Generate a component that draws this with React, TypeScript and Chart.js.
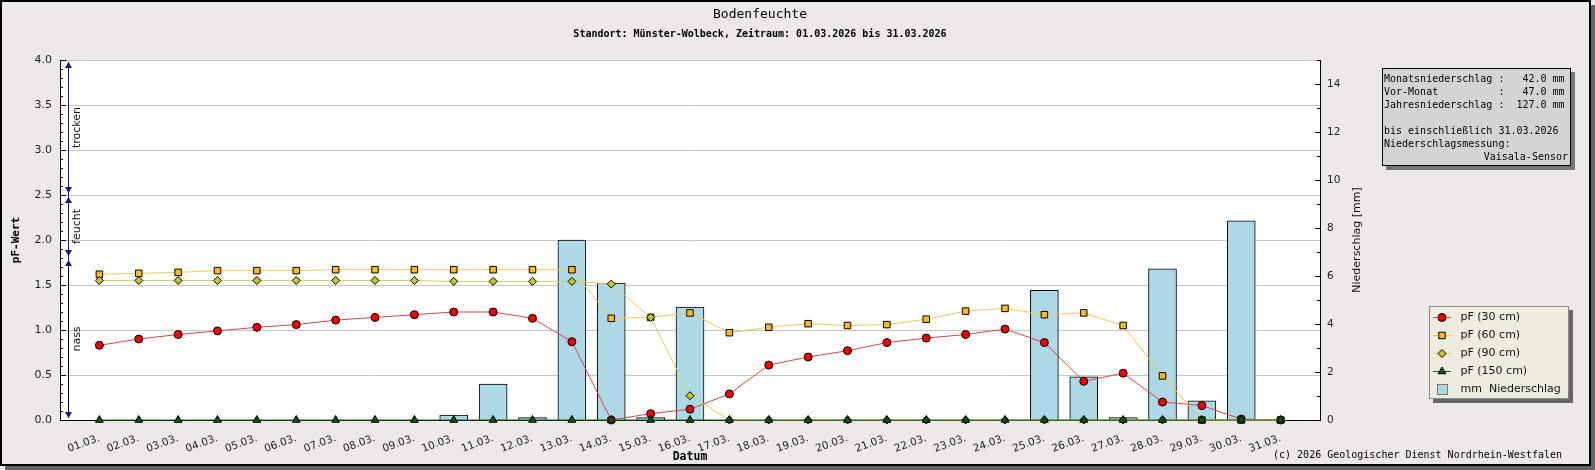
import { useEffect, useRef } from "react"
import { Chart, registerables } from "chart.js"

Chart.register(...registerables)

// days of the month (x axis tick labels)
const DAYS = [
  "01.03.", "02.03.", "03.03.", "04.03.", "05.03.", "06.03.", "07.03.", "08.03.",
  "09.03.", "10.03.", "11.03.", "12.03.", "13.03.", "14.03.", "15.03.", "16.03.",
  "17.03.", "18.03.", "19.03.", "20.03.", "21.03.", "22.03.", "23.03.", "24.03.",
  "25.03.", "26.03.", "27.03.", "28.03.", "29.03.", "30.03.", "31.03.",
]

// pF values per depth
const PF_30 = [
  0.83, 0.9, 0.95, 0.99, 1.03, 1.06, 1.11, 1.14, 1.17, 1.2, 1.2, 1.13, 0.87, 0.0, 0.07, 0.12,
  0.29, 0.61, 0.7, 0.77, 0.86, 0.91, 0.95, 1.01, 0.86, 0.43, 0.52, 0.2, 0.16, 0.01, 0.0,
]
const PF_60 = [
  1.62, 1.63, 1.64, 1.66, 1.66, 1.66, 1.67, 1.67, 1.67, 1.67, 1.67, 1.67, 1.67, 1.13, 1.14, 1.19,
  0.97, 1.03, 1.07, 1.05, 1.06, 1.12, 1.21, 1.24, 1.17, 1.19, 1.05, 0.49, 0.0, 0.0, 0.0,
]
const PF_90 = [
  1.55, 1.55, 1.55, 1.55, 1.55, 1.55, 1.55, 1.55, 1.55, 1.54, 1.54, 1.54, 1.54, 1.51, 1.14, 0.27,
  0.0, 0.0, 0.0, 0.0, 0.0, 0.0, 0.0, 0.0, 0.0, 0.0, 0.0, 0.0, 0.0, 0.0, 0.0,
]
const PF_150 = [
  0, 0, 0, 0, 0, 0, 0, 0, 0, 0, 0, 0, 0, 0, 0, 0,
  0, 0, 0, 0, 0, 0, 0, 0, 0, 0, 0, 0, 0, 0, 0,
]

// daily precipitation in mm
const PRECIP = [
  0, 0, 0, 0, 0, 0, 0, 0, 0, 0.2, 1.5, 0.1, 7.5, 5.7, 0.1, 4.7,
  0, 0, 0, 0, 0, 0, 0, 0, 5.4, 1.8, 0.1, 6.3, 0.8, 8.3, 0,
]

const ZONES = [
  { label: "trocken", from: 2.5, to: 4.0 },
  { label: "feucht", from: 1.8, to: 2.5 },
  { label: "nass", from: 0.0, to: 1.8 },
]

const INFO_LINES = [
  "Monatsniederschlag :   42.0 mm",
  "Vor-Monat          :   47.0 mm",
  "Jahresniederschlag :  127.0 mm",
  "",
  "bis einschließlich 31.03.2026",
  "Niederschlagsmessung:",
]
const INFO_SENSOR = "Vaisala-Sensor"

const TITLE = "Bodenfeuchte"
const SUBTITLE = "Standort: Münster-Wolbeck, Zeitraum: 01.03.2026 bis 31.03.2026"
const COPYRIGHT = "(c) 2026 Geologischer Dienst Nordrhein-Westfalen"
const PRECIP_LABEL = "mm  Niederschlag"

const SERIES = [
  { label: "pF (30 cm)", values: PF_30, line: "#d94848", fill: "#ee0000", style: "circle", radius: 4 },
  { label: "pF (60 cm)", values: PF_60, line: "#f3c65c", fill: "#ffb922", style: "rect", radius: 4.6 },
  { label: "pF (90 cm)", values: PF_90, line: "#d9d45a", fill: "#c8c81e", style: "rectRot", radius: 4 },
  { label: "pF (150 cm)", values: PF_150, line: "#1a6a1a", fill: "#0c5412", style: "triangle", radius: 4.5 },
]

const SANS = "'DejaVu Sans', sans-serif"
const MONO = "'DejaVu Sans Mono', monospace"

// pad with an empty slot on each side of the month
const pad = (a: number[]) => [null, ...a, null]

function drawMarker(ctx: CanvasRenderingContext2D, style: string, x: number, y: number, r: number, fill: string) {
  ctx.beginPath()
  if (style === "circle") {
    ctx.arc(x, y, r, 0, Math.PI * 2)
  } else if (style === "rect") {
    const s = r * Math.SQRT1_2
    ctx.rect(x - s, y - s, 2 * s, 2 * s)
  } else if (style === "rectRot") {
    ctx.moveTo(x - r, y)
    ctx.lineTo(x, y - r)
    ctx.lineTo(x + r, y)
    ctx.lineTo(x, y + r)
    ctx.closePath()
  } else {
    ctx.moveTo(x, y - r)
    ctx.lineTo(x + r * 0.866, y + r * 0.5)
    ctx.lineTo(x - r * 0.866, y + r * 0.5)
    ctx.closePath()
  }
  ctx.fillStyle = fill
  ctx.fill()
  ctx.strokeStyle = "#000"
  ctx.lineWidth = 1
  ctx.stroke()
}

const decor = {
  id: "decor",
  beforeDraw(chart: Chart) {
    const { ctx, width, height, chartArea: a } = chart
    ctx.save()
    ctx.fillStyle = "#ece9e8"
    ctx.fillRect(0, 0, width, height)
    ctx.fillStyle = "#666"
    ctx.fillRect(5, 466, 1590, 4)
    ctx.fillRect(1591, 5, 4, 465)
    ctx.strokeStyle = "#000"
    ctx.lineWidth = 2
    ctx.strokeRect(1, 1, 1589, 464)
    ctx.fillStyle = "#fff"
    ctx.fillRect(a.left, a.top, a.right - a.left, a.bottom - a.top)
    ctx.restore()
  },
  afterDraw(chart: Chart) {
    const { ctx, chartArea: a } = chart
    const y = chart.scales.y
    const y1 = chart.scales.y1
    ctx.save()

    // inner ticks on both value axes
    ctx.strokeStyle = "#000"
    ctx.lineWidth = 1
    ctx.beginPath()
    for (let i = 0; i <= 40; i++) {
      const py = Math.round(y.getPixelForValue(i / 10)) + 0.5
      const len = i % 5 === 0 ? 6 : 3
      ctx.moveTo(a.left, py)
      ctx.lineTo(a.left + len, py)
    }
    y1.ticks.forEach((t, i) => {
      const py = Math.round(y1.getPixelForTick(i)) + 0.5
      const len = t.value % 2 === 0 ? 5 : 3
      ctx.moveTo(a.right - len, py)
      ctx.lineTo(a.right, py)
    })
    ctx.stroke()

    // moisture zones along the left axis
    const zx = a.left + 8.5
    const yTop = y.getPixelForValue(4.0)
    const yWet = y.getPixelForValue(1.8)
    ctx.beginPath()
    ctx.strokeStyle = "#1a1a9a"
    ctx.moveTo(zx, yTop + 2)
    ctx.lineTo(zx, yWet + 4)
    ctx.stroke()
    ctx.beginPath()
    ctx.strokeStyle = "#000"
    ctx.moveTo(zx, yWet + 4)
    ctx.lineTo(zx, y.getPixelForValue(0) - 2)
    ctx.stroke()
    ctx.fillStyle = "#14148c"
    ZONES.forEach((z) => {
      const top = y.getPixelForValue(z.to) + 2
      const bot = y.getPixelForValue(z.from) - 2
      ctx.beginPath()
      ctx.moveTo(zx, top)
      ctx.lineTo(zx + 3.5, top + 6)
      ctx.lineTo(zx - 3.5, top + 6)
      ctx.closePath()
      ctx.fill()
      ctx.beginPath()
      ctx.moveTo(zx, bot)
      ctx.lineTo(zx + 3.5, bot - 6)
      ctx.lineTo(zx - 3.5, bot - 6)
      ctx.closePath()
      ctx.fill()
      ctx.save()
      ctx.translate(zx + 9, (top + bot) / 2)
      ctx.rotate(-Math.PI / 2)
      ctx.fillStyle = "#111"
      ctx.font = `11px ${SANS}`
      ctx.textAlign = "center"
      ctx.textBaseline = "middle"
      ctx.fillText(z.label, 0, 0)
      ctx.restore()
    })

    // titles
    ctx.fillStyle = "#000"
    ctx.textAlign = "center"
    ctx.textBaseline = "middle"
    ctx.font = `13px ${MONO}`
    ctx.fillText(TITLE, 760, 15)
    ctx.font = `bold 10px ${MONO}`
    ctx.fillText(SUBTITLE, 760, 34)
    ctx.font = `bold 11.5px ${MONO}`
    ctx.fillText("Datum", (a.left + a.right) / 2, 457)
    ctx.save()
    ctx.translate(16, (a.top + a.bottom) / 2)
    ctx.rotate(-Math.PI / 2)
    ctx.font = `bold 11px ${MONO}`
    ctx.fillText("pF-Wert", 0, 0)
    ctx.restore()
    ctx.save()
    ctx.translate(1357, (a.top + a.bottom) / 2)
    ctx.rotate(-Math.PI / 2)
    ctx.font = `11px ${SANS}`
    ctx.fillStyle = "#111"
    ctx.fillText("Niederschlag [mm]", 0, 0)
    ctx.restore()
    ctx.textAlign = "right"
    ctx.font = `10px ${MONO}`
    ctx.fillText(COPYRIGHT, 1562, 455)

    // info box
    ctx.fillStyle = "#777"
    ctx.fillRect(1386, 72, 189, 98)
    ctx.fillStyle = "#d4d4d4"
    ctx.fillRect(1382, 68, 189, 98)
    ctx.strokeStyle = "#000"
    ctx.lineWidth = 1
    ctx.strokeRect(1382.5, 68.5, 188, 97)
    ctx.fillStyle = "#000"
    ctx.font = `10px ${MONO}`
    ctx.textAlign = "left"
    INFO_LINES.forEach((line, i) => ctx.fillText(line, 1384, 79.5 + i * 12.95))
    ctx.textAlign = "right"
    ctx.fillText(INFO_SENSOR, 1568, 79.5 + 6 * 12.95)

    // legend box
    ctx.fillStyle = "#666"
    ctx.fillRect(1433, 310, 140, 93)
    ctx.fillStyle = "#edecdf"
    ctx.fillRect(1429, 306, 140, 93)
    ctx.strokeStyle = "#888"
    ctx.strokeRect(1429.5, 306.5, 139, 92)
    ctx.textAlign = "left"
    ctx.font = `11px ${SANS}`
    SERIES.forEach((s, i) => {
      const ly = 317.5 + i * 18
      ctx.strokeStyle = s.line
      ctx.lineWidth = 1
      ctx.beginPath()
      ctx.moveTo(1433, ly)
      ctx.lineTo(1451, ly)
      ctx.stroke()
      drawMarker(ctx, s.style, 1442, ly, s.radius, s.fill)
      ctx.fillStyle = "#111"
      ctx.fillText(s.label, 1460.5, ly)
    })
    const by = 317.5 + 4 * 18
    ctx.fillStyle = "#add8e6"
    ctx.fillRect(1437, by - 5.5, 11, 11)
    ctx.strokeStyle = "#777"
    ctx.strokeRect(1437.5, by - 5, 10, 10)
    ctx.fillStyle = "#111"
    ctx.fillText(PRECIP_LABEL, 1460.5, by)

    ctx.restore()
  },
}

export default function App() {
  const canvasRef = useRef<HTMLCanvasElement | null>(null)
  const chartRef = useRef<Chart | null>(null)

  useEffect(() => {
    document.body.style.margin = "0"
    if (!canvasRef.current) return
    if (chartRef.current) chartRef.current.destroy()

    const tickFont = { family: SANS, size: 11 }

    chartRef.current = new Chart(canvasRef.current, {
      type: "bar",
      data: {
        labels: ["", ...DAYS, ""],
        datasets: [
          ...SERIES.map((s, i) => ({
            type: "line" as const,
            label: s.label,
            data: pad(s.values),
            yAxisID: "y",
            borderColor: s.line,
            borderWidth: 1,
            backgroundColor: s.fill,
            pointStyle: s.style as any,
            pointRadius: s.radius,
            pointBackgroundColor: s.fill,
            pointBorderColor: "#000",
            pointBorderWidth: 1,
            tension: 0,
            clip: false as any,
            order: 4 - i,
          })),
          {
            type: "bar" as const,
            label: PRECIP_LABEL,
            data: pad(PRECIP),
            yAxisID: "y1",
            backgroundColor: "#add8e6",
            borderColor: "#000",
            borderWidth: 1,
            barThickness: 28,
            order: 10,
          },
        ],
      },
      options: {
        responsive: false,
        animation: false,
        layout: { padding: { left: 0, top: 60, right: 225, bottom: 10 } },
        plugins: {
          legend: { display: false },
          tooltip: { enabled: false },
          title: { display: false },
        },
        scales: {
          x: {
            type: "category",
            offset: false,
            z: 1,
            grid: { display: false, drawTicks: false },
            border: { color: "#000", width: 1 },
            ticks: {
              autoSkip: false,
              minRotation: 20,
              maxRotation: 20,
              padding: 12,
              color: "#222",
              font: { family: SANS, size: 10.5 },
            },
            afterFit: (s: any) => {
              s.height = 40
            },
          },
          y: {
            position: "left",
            min: 0,
            max: 4,
            ticks: {
              stepSize: 0.5,
              padding: 8,
              color: "#222",
              font: tickFont,
              callback: (v: any) => Number(v).toFixed(1),
            },
            grid: { color: "#c8c8c8", drawTicks: false },
            border: { color: "#000", width: 1 },
            afterFit: (s: any) => {
              s.width = 60
            },
          },
          y1: {
            position: "right",
            min: 0,
            max: 15,
            ticks: {
              stepSize: 1,
              padding: 7,
              color: "#222",
              font: { family: SANS, size: 10.5 },
              callback: (v: any) => (Number(v) % 2 === 0 ? String(v) : ""),
            },
            grid: { display: false, drawTicks: false },
            border: { color: "#000", width: 1 },
            afterFit: (s: any) => {
              s.width = 50
            },
          },
        },
      },
      plugins: [decor],
    })

    return () => {
      if (chartRef.current) {
        chartRef.current.destroy()
        chartRef.current = null
      }
    }
  }, [])

  return <canvas ref={canvasRef} width={1595} height={470} style={{ display: "block" }} />
}
